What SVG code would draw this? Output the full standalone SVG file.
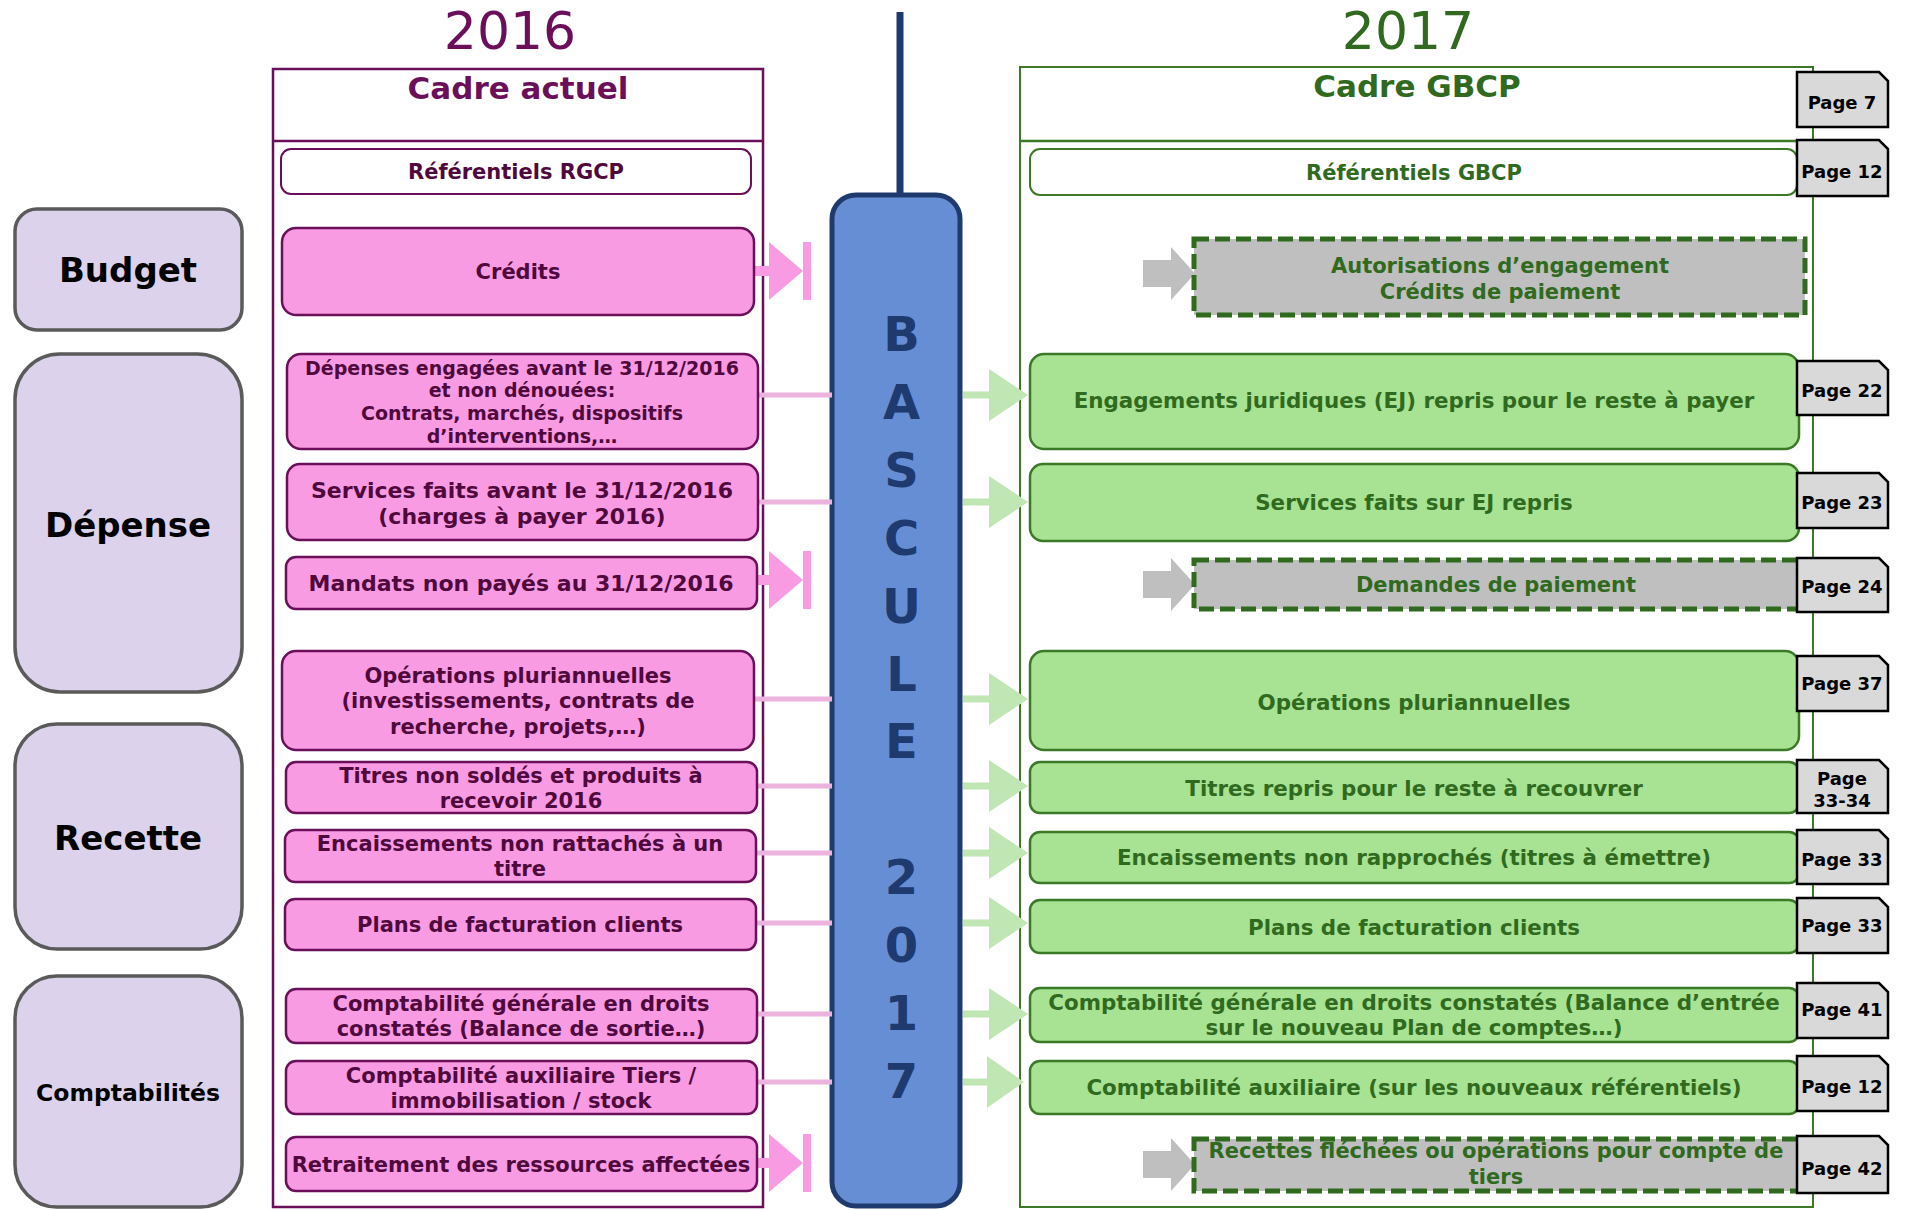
<svg xmlns="http://www.w3.org/2000/svg" width="1915" height="1210" viewBox="0 0 1915 1210">
<style>
text{font-family:"DejaVu Sans",Verdana,"Liberation Sans",sans-serif;font-weight:bold;text-anchor:middle}
.yr{font-weight:normal;font-size:52px}
.cat{fill:#dcd2eb;stroke:#5a5a5a;stroke-width:3.5}
.catt{fill:#000;font-size:34px}
.pk{fill:#f99be3;stroke:#6b0f5b;stroke-width:2.5}
.pkt{fill:#4f093c;font-size:21px}
.pkl{font-size:22px}
.pks{font-size:19px}
.gr{fill:#a8e293;stroke:#3a7a26;stroke-width:2.5}
.grt{fill:#2f6a1e;font-size:21.4px}
.gyt{fill:#2f6a1e;font-size:21px}
.gy{fill:#bfbfbf;stroke:#2f6a1e;stroke-width:5;stroke-dasharray:15 6}
.tab{fill:#d9d9d9;stroke:#000;stroke-width:2.5}
.tabt{fill:#000;font-size:18px}
.pl{stroke:#ecb3df;stroke-width:5;fill:none}
.pa{fill:#f99be3}
.ga{fill:#c0e6b4}
.ya{fill:#bfbfbf}
.bas{fill:#1f3a6e;font-size:48px}
</style>

<text class="yr" x="510" y="49" fill="#6b0f5b">2016</text>
<text class="yr" x="1408" y="49" fill="#2f6a1e">2017</text>

<g id="frame-2016">
<rect x="273" y="69" width="490" height="1138" fill="none" stroke="#6b0f5b" stroke-width="2.5"/>
<line x1="273" y1="141" x2="763" y2="141" stroke="#6b0f5b" stroke-width="2.5"/>
<text x="518" y="99" fill="#6b0f5b" font-size="31">Cadre actuel</text>
</g>
<g id="frame-2017">
<rect x="1020" y="67" width="793" height="1140" fill="none" stroke="#3a7a26" stroke-width="2"/>
<line x1="1020" y1="141" x2="1813" y2="141" stroke="#3a7a26" stroke-width="2.5"/>
<text x="1417" y="97" fill="#2f6a1e" font-size="31">Cadre GBCP</text>
</g>

<g id="ref-rgcp">
<rect x="281" y="149" width="470" height="45" rx="10" fill="#fff" stroke="#6b0f5b" stroke-width="2"/>
<text x="516" y="179" fill="#4f093c" font-size="21">Référentiels RGCP</text>
</g>
<g id="ref-gbcp">
<rect x="1030" y="149" width="767" height="46" rx="10" fill="#fff" stroke="#3a7a26" stroke-width="2"/>
<text x="1414" y="180" fill="#2f6a1e" font-size="21">Référentiels GBCP</text>
</g>

<g id="cat-budget"><rect class="cat" x="15" y="209" width="227" height="121" rx="22"/><text class="catt" x="128" y="282">Budget</text></g>
<g id="cat-depense"><rect class="cat" x="15" y="354" width="227" height="338" rx="45"/><text class="catt" x="128" y="537">Dépense</text></g>
<g id="cat-recette"><rect class="cat" x="15" y="724" width="227" height="225" rx="42"/><text class="catt" x="128" y="850">Recette</text></g>
<g id="cat-compta"><rect class="cat" x="15" y="976" width="227" height="231" rx="42"/><text class="catt" x="128" y="1101" style="font-size:23.5px">Comptabilités</text></g>

<g id="bascule">
<line x1="900" y1="12" x2="900" y2="195" stroke="#1f3a6e" stroke-width="7"/>
<rect x="832" y="195" width="128" height="1011" rx="24" fill="#668ed5" stroke="#1f3a6e" stroke-width="5"/>
<text class="bas" x="901.5" y="351">B</text>
<text class="bas" x="901.5" y="419">A</text>
<text class="bas" x="901.5" y="487">S</text>
<text class="bas" x="901.5" y="555">C</text>
<text class="bas" x="901.5" y="623">U</text>
<text class="bas" x="901.5" y="691">L</text>
<text class="bas" x="901.5" y="758">E</text>
<text class="bas" x="901.5" y="894">2</text>
<text class="bas" x="901.5" y="962">0</text>
<text class="bas" x="901.5" y="1030">1</text>
<text class="bas" x="901.5" y="1098">7</text>
</g>

<g id="connectors">
<line class="pl" x1="757" y1="395" x2="832" y2="395"/>
<line class="pl" x1="757" y1="502" x2="832" y2="502"/>
<line class="pl" x1="754" y1="699" x2="832" y2="699"/>
<line class="pl" x1="756" y1="786" x2="832" y2="786"/>
<line class="pl" x1="755" y1="853" x2="832" y2="853"/>
<line class="pl" x1="755" y1="923" x2="832" y2="923"/>
<line class="pl" x1="756" y1="1014" x2="832" y2="1014"/>
<line class="pl" x1="756" y1="1082" x2="832" y2="1082"/>
<g id="blocked-credits"><rect class="pa" x="752" y="266" width="18" height="10"/><polygon class="pa" points="769,242 803,271 769,300"/><rect class="pa" x="803" y="242" width="8" height="58"/></g>
<g id="blocked-mandats"><rect class="pa" x="755" y="575" width="15" height="10"/><polygon class="pa" points="769,551 803,580 769,609"/><rect class="pa" x="803" y="551" width="8" height="58"/></g>
<g id="blocked-retraitement"><rect class="pa" x="755" y="1158" width="15" height="10"/><polygon class="pa" points="769,1134 803,1163 769,1192"/><rect class="pa" x="803" y="1134" width="8" height="58"/></g>
<g id="green-arrows">
<path class="ga" d="M963,391.5H989V369L1028,395L989,421V398.5H963Z"/>
<path class="ga" d="M963,498.5H989V476L1028,502L989,528V505.5H963Z"/>
<path class="ga" d="M963,695.5H989V673L1028,699L989,725V702.5H963Z"/>
<path class="ga" d="M963,782.5H989V760L1028,786L989,812V789.5H963Z"/>
<path class="ga" d="M963,849.5H989V827L1028,853L989,879V856.5H963Z"/>
<path class="ga" d="M963,919.5H989V897L1028,923L989,949V926.5H963Z"/>
<path class="ga" d="M963,1010.5H989V988L1028,1014L989,1040V1017.5H963Z"/>
<path class="ga" d="M963,1078.5H987V1056L1024,1082L987,1108V1085.5H963Z"/>
</g>
<g id="grey-arrows">
<path class="ya" d="M1143,260H1171V247L1195,273.5L1171,300V287H1143Z"/>
<path class="ya" d="M1143,571H1171V558L1195,584.5L1171,611V598H1143Z"/>
<path class="ya" d="M1143,1151H1171V1138L1195,1164.5L1171,1191V1178H1143Z"/>
</g>
</g>

<g id="pk-credits"><rect class="pk" x="282" y="228" width="472" height="87" rx="14"/><text class="pkt" x="518" y="279">Crédits</text></g>
<g id="pk-depenses"><rect class="pk" x="287" y="354" width="471" height="95" rx="14"/>
<text class="pkt pks" x="522" y="374.5">Dépenses engagées avant le 31/12/2016</text>
<text class="pkt pks" x="522" y="397.2">et non dénouées:</text>
<text class="pkt pks" x="522" y="419.8">Contrats, marchés, dispositifs</text>
<text class="pkt pks" x="522" y="442.5">d’interventions,…</text></g>
<g id="pk-services"><rect class="pk" x="287" y="464" width="471" height="76" rx="13"/>
<text class="pkt pkl" x="522" y="498">Services faits avant le 31/12/2016</text>
<text class="pkt pkl" x="522" y="524">(charges à payer 2016)</text></g>
<g id="pk-mandats"><rect class="pk" x="286" y="557" width="471" height="52" rx="10"/><text class="pkt pkl" x="521" y="591">Mandats non payés au 31/12/2016</text></g>
<g id="pk-operations"><rect class="pk" x="282" y="651" width="472" height="99" rx="14"/>
<text class="pkt" x="518" y="682.5">Opérations pluriannuelles</text>
<text class="pkt" x="518" y="708">(investissements, contrats de</text>
<text class="pkt" x="518" y="733.5">recherche, projets,…)</text></g>
<g id="pk-titres"><rect class="pk" x="286" y="762" width="471" height="51" rx="10"/>
<text class="pkt" x="521" y="782.5">Titres non soldés et produits à</text>
<text class="pkt" x="521" y="807.5">recevoir 2016</text></g>
<g id="pk-encaissements"><rect class="pk" x="285" y="830" width="471" height="52" rx="10"/>
<text class="pkt" x="520" y="851">Encaissements non rattachés à un</text>
<text class="pkt" x="520" y="876">titre</text></g>
<g id="pk-plans"><rect class="pk" x="285" y="899" width="471" height="51" rx="10"/><text class="pkt" x="520" y="932">Plans de facturation clients</text></g>
<g id="pk-comptagen"><rect class="pk" x="286" y="989" width="471" height="54" rx="10"/>
<text class="pkt" x="521" y="1011">Comptabilité générale en droits</text>
<text class="pkt" x="521" y="1036">constatés (Balance de sortie…)</text></g>
<g id="pk-comptaaux"><rect class="pk" x="286" y="1061" width="471" height="53" rx="10"/>
<text class="pkt" x="521" y="1083">Comptabilité auxiliaire Tiers /</text>
<text class="pkt" x="521" y="1108">immobilisation / stock</text></g>
<g id="pk-retraitement"><rect class="pk" x="286" y="1137" width="471" height="54" rx="10"/><text class="pkt" x="521" y="1172">Retraitement des ressources affectées</text></g>

<g id="gy-autorisations"><rect class="gy" x="1194" y="239" width="611" height="76"/>
<text class="gyt" x="1500" y="273">Autorisations d’engagement</text>
<text class="gyt" x="1500" y="299">Crédits de paiement</text></g>
<g id="gr-engagements"><rect class="gr" x="1030" y="354" width="769" height="95" rx="14"/><text class="grt" x="1414" y="408">Engagements juridiques (EJ) repris pour le reste à payer</text></g>
<g id="gr-services"><rect class="gr" x="1030" y="464" width="769" height="77" rx="13"/><text class="grt" x="1414" y="510">Services faits sur EJ repris</text></g>
<g id="gy-demandes"><rect class="gy" x="1194" y="560" width="605" height="49"/><text class="gyt" x="1496" y="592">Demandes de paiement</text></g>
<g id="gr-operations"><rect class="gr" x="1030" y="651" width="769" height="99" rx="14"/><text class="grt" x="1414" y="710">Opérations pluriannuelles</text></g>
<g id="gr-titres"><rect class="gr" x="1030" y="762" width="769" height="51" rx="10"/><text class="grt" x="1414" y="796">Titres repris pour le reste à recouvrer</text></g>
<g id="gr-encaissements"><rect class="gr" x="1030" y="832" width="769" height="51" rx="10"/><text class="grt" x="1414" y="865">Encaissements non rapprochés (titres à émettre)</text></g>
<g id="gr-plans"><rect class="gr" x="1030" y="900" width="769" height="53" rx="10"/><text class="grt" x="1414" y="935">Plans de facturation clients</text></g>
<g id="gr-comptagen"><rect class="gr" x="1030" y="988" width="769" height="54" rx="10"/>
<text class="grt" x="1414" y="1010">Comptabilité générale en droits constatés (Balance d’entrée</text>
<text class="grt" x="1414" y="1035">sur le nouveau Plan de comptes…)</text></g>
<g id="gr-comptaaux"><rect class="gr" x="1030" y="1061" width="769" height="53" rx="10"/><text class="grt" x="1414" y="1095">Comptabilité auxiliaire (sur les nouveaux référentiels)</text></g>
<g id="gy-recettes"><rect class="gy" x="1194" y="1139" width="605" height="52"/>
<text class="gyt" x="1496" y="1158">Recettes fléchées ou opérations pour compte de</text>
<text class="gyt" x="1496" y="1184">tiers</text></g>

<g id="tab-7"><path class="tab" d="M1797,72H1879L1888,81V127H1797Z"/><text class="tabt" x="1842" y="109">Page 7</text></g>
<g id="tab-12a"><path class="tab" d="M1797,140H1879L1888,149V196H1797Z"/><text class="tabt" x="1842" y="178">Page 12</text></g>
<g id="tab-22"><path class="tab" d="M1797,361H1879L1888,370V415H1797Z"/><text class="tabt" x="1842" y="397">Page 22</text></g>
<g id="tab-23"><path class="tab" d="M1797,473H1879L1888,482V528H1797Z"/><text class="tabt" x="1842" y="509">Page 23</text></g>
<g id="tab-24"><path class="tab" d="M1797,558H1879L1888,567V612H1797Z"/><text class="tabt" x="1842" y="593">Page 24</text></g>
<g id="tab-37"><path class="tab" d="M1797,656H1879L1888,665V711H1797Z"/><text class="tabt" x="1842" y="690">Page 37</text></g>
<g id="tab-3334"><path class="tab" d="M1797,760H1879L1888,769V813H1797Z"/><text class="tabt" x="1842" y="785">Page</text><text class="tabt" x="1842" y="807">33-34</text></g>
<g id="tab-33a"><path class="tab" d="M1797,830H1879L1888,839V884H1797Z"/><text class="tabt" x="1842" y="866">Page 33</text></g>
<g id="tab-33b"><path class="tab" d="M1797,898H1879L1888,907V953H1797Z"/><text class="tabt" x="1842" y="932">Page 33</text></g>
<g id="tab-41"><path class="tab" d="M1797,983H1879L1888,992V1038H1797Z"/><text class="tabt" x="1842" y="1016">Page 41</text></g>
<g id="tab-12b"><path class="tab" d="M1797,1056H1879L1888,1065V1111H1797Z"/><text class="tabt" x="1842" y="1093">Page 12</text></g>
<g id="tab-42"><path class="tab" d="M1797,1136H1879L1888,1145V1193H1797Z"/><text class="tabt" x="1842" y="1175">Page 42</text></g>
</svg>
